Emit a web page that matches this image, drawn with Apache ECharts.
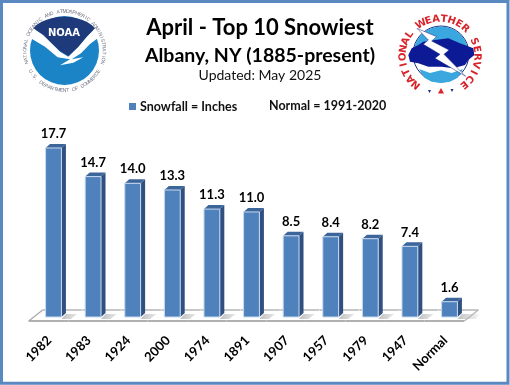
<!DOCTYPE html>
<html>
<head>
<meta charset="utf-8">
<style>html,body{margin:0;padding:0;background:#fff}#c{width:510px;height:385px}</style>
<script src="https://cdn.jsdelivr.net/npm/echarts@6/dist/echarts.min.js"></script>
</head>
<body>
<div id="c"></div>
<script>
const categories = ['1982','1983','1924','2000','1974','1891','1907','1957','1979','1947','Normal'];
const snowfall = [17.7,14.7,14.0,13.3,11.3,11.0,8.5,8.4,8.2,7.4,1.6];
const titleLines = ['April - Top 10 Snowiest','Albany, NY (1885-present)','Updated: May 2025'];
const seriesName = 'Snowfall = Inches';
const noteText = 'Normal = 1991-2020';
const noaaTop = 'NATIONAL OCEANIC AND ATMOSPHERIC ADMINISTRATION';
const noaaBottom = 'U.S. DEPARTMENT OF COMMERCE';
const noaaWord = 'NOAA';
const nwsRing = 'NATIONAL WEATHER SERVICE';

const FONT = 'Lato, Carlito, "Open Sans", sans-serif';
const rad = d => d * Math.PI / 180;

function arcTop(str, cx, cy, r, a0, a1, font, color) {
  const n = str.length - 1;
  return str.split('').map((ch, i) => {
    const t = rad(a0 + (a1 - a0) * i / n);
    return { type:'text', x:cx + r*Math.sin(t), y:cy - r*Math.cos(t), rotation:-t, z:5,
      style:{ text:ch, font, fill:color, align:'center', verticalAlign:'middle' } };
  });
}
function arcBottom(str, cx, cy, r, a0, a1, font, color) {
  const n = str.length - 1;
  return str.split('').map((ch, i) => {
    const t = rad(a0 + (a1 - a0) * i / n);
    return { type:'text', x:cx + r*Math.sin(t), y:cy + r*Math.cos(t), rotation:t, z:5,
      style:{ text:ch, font, fill:color, align:'center', verticalAlign:'middle' } };
  });
}
const mapN = p => p.map(q => [q[0]/3 + 15, q[1]/3]);
const mapW = p => p.map(q => [q[0]/3 + 385, q[1]/3 + 5]);
const poly = (pts, fill, z) => ({ type:'polygon', z:z||4, shape:{ points:pts }, style:{ fill } });
const circ = (cx, cy, r, fill, stroke, lw, z) => ({ type:'circle', z:z||3, shape:{ cx, cy, r }, style:{ fill, stroke, lineWidth:lw||0 } });

const noaa = [
  circ(64.5, 50.5, 34.5, '#1a84c6'),
  poly(mapN([[42,112],[55,85],[85,105],[110,130],[135,155],[160,170],[190,140],[215,110],[240,85],[252,112],[225,132],[198,160],[170,178],[205,172],[175,188],[135,196],[165,178],[128,172],[90,140],[60,122]]), '#ffffff', 4),
  poly(mapN([[55,85],[65,74],[80,65],[95,59],[110,55],[128,51],[147,50],[166,51],[185,55],[200,59],[215,65],[230,75],[240,85],[215,110],[190,140],[160,168],[135,153],[110,130],[85,105]]), '#1f3a7a', 5),
  { type:'text', x:64, y:33, z:6, style:{ text:noaaWord, font:'bold 10px "DejaVu Sans"', fill:'#ffffff', align:'center', verticalAlign:'middle' } }
].concat(
  arcTop(noaaTop, 64.5, 51, 39.5, -107, 107, '5px "Liberation Sans"', '#6d7384'),
  arcBottom(noaaBottom, 64.5, 51, 39.5, -59, 59, '5px "Liberation Sans"', '#6d7384')
);

const nws = [
  circ(441, 54, 28, '#ffffff', '#1a2a80', 1, 3),
  { type:'sector', z:4, shape:{ cx:441, cy:54, r0:0, r:27.5, startAngle:rad(180), endAngle:rad(360) }, style:{ fill:'#3aa8de' } },
  poly(mapW([[102,192],[135,204],[168,196],[200,204],[234,192],[218,218],[195,230],[168,234],[140,230],[118,218]]), '#3aa8de', 4),
  poly(mapW([[70,150],[80,130],[100,120],[115,110],[150,105],[190,100],[225,115],[265,130],[268,150],[250,165],[240,180],[205,190],[170,185],[130,185],[100,175],[75,170]]), '#0d1a96', 6),
  { type:'polygon', z:8, shape:{ points:mapW([[96,70],[155,95],[140,108],[192,135],[177,148],[242,214],[150,160],[165,148],[115,118],[130,105]]) }, style:{ fill:'#ffffff', stroke:'#1a2a80', lineWidth:0.5 } },
  { type:'polygon', z:8, shape:{ points:[[428,90],[431,90],[429.5,93]] }, style:{ fill:'#1a2a80' } },
  { type:'polygon', z:8, shape:{ points:[[438,93.5],[444,93.5],[441,88]] }, style:{ fill:'#d8232a' } },
  { type:'polygon', z:8, shape:{ points:[[450.5,89],[453.5,89],[452,92]] }, style:{ fill:'#1a2a80' } }
].concat(arcTop(nwsRing, 440, 56, 37, -140, 140, 'bold 10px "DejaVu Sans"', '#d8232a'));

function renderBar(params, api) {
  const v = api.value(1);
  const base = api.coord([api.value(0), 0]);
  const top = api.coord([api.value(0), v]);
  const band = api.size([1, 0])[0];
  const hw = band * 0.2;
  const x0 = base[0] - hw, x1 = base[0] + hw;
  const y0 = top[1], y1 = base[1];
  const dx = 4.5, dy = 4;
  const bl = base[0] - band/2, br = base[0] + band/2;
  const kids = [];
  const frontY = y1 + 4, backY = y1 - 7, fs = 5, bs = 9;
  kids.push({ type:'polygon', shape:{ points:[[bl-fs,frontY],[br-fs,frontY],[br+bs,backY],[bl+bs,backY]] }, style:{ fill:'#ffffff' } });
  kids.push({ type:'polygon', shape:{ points:[[x1+dx,y1-3],[x1+dx+18,y1-3],[x1+dx+14,y1+2],[x1,y1+2]] },
    style:{ fill:{ type:'linear', x:0, y:0, x2:1, y2:0, colorStops:[{offset:0,color:'#c0c0c0'},{offset:1,color:'#f8f8f8'}] } } });
  kids.push({ type:'line', shape:{ x1:bl+bs, y1:backY, x2:br+bs, y2:backY }, style:{ stroke:'#c8c8c8', lineWidth:2 } });
  kids.push({ type:'line', shape:{ x1:bl-fs, y1:frontY, x2:br-fs, y2:frontY }, style:{ stroke:'#b0b0b0', lineWidth:2 } });
  if (params.dataIndex === 0) kids.push({ type:'line', shape:{ x1:bl-fs, y1:frontY, x2:bl+bs, y2:backY }, style:{ stroke:'#a8a8a8', lineWidth:1.2 } });
  if (params.dataIndex === categories.length - 1) kids.push({ type:'line', shape:{ x1:br-fs, y1:frontY, x2:br+bs, y2:backY }, style:{ stroke:'#b8b8b8', lineWidth:1.4 } });
  kids.push({ type:'polygon', shape:{ points:[[x1,y0],[x1+dx,y0-dy],[x1+dx,y1-dy],[x1,y1]] }, style:{ fill:'#2f5080' } });
  kids.push({ type:'polygon', shape:{ points:[[x0,y0],[x0+dx,y0-dy],[x1+dx,y0-dy],[x1,y0]] }, style:{ fill:'#3c659a' } });
  kids.push({ type:'rect', shape:{ x:x0, y:y0, width:x1-x0, height:y1-y0 }, style:{ fill:'#4f81bd', stroke:'#c9daee', lineWidth:1 } });
  kids.push({ type:'text', x:base[0], y:y0-14, style:{ text:v.toFixed(1), font:'bold 13px ' + FONT, fill:'#000', align:'center', verticalAlign:'middle' } });
  return { type:'group', children:kids };
}

const chart = echarts.init(document.getElementById('c'), null, { renderer:'canvas' });
chart.setOption({
  animation:false,
  backgroundColor:'#ffffff',
  title:[
    { text:titleLines[0], left:255, top:12, textAlign:'center', textStyle:{ fontFamily:FONT, fontWeight:'bold', fontSize:22, color:'#000' } },
    { text:titleLines[1], left:255, top:41, textAlign:'center', textStyle:{ fontFamily:FONT, fontWeight:'bold', fontSize:19.5, color:'#000' } },
    { text:titleLines[2], left:255, top:63, textAlign:'center', textStyle:{ fontFamily:FONT, fontWeight:'normal', fontSize:14, color:'#111' } },
    { text:noteText, left:264, top:94, textStyle:{ fontFamily:FONT, fontWeight:'bold', fontSize:12.5, color:'#111' } }
  ],
  legend:{ data:[{ name:seriesName, icon:'rect', itemStyle:{ color:'#4f81bd' } }], left:124, top:95, itemWidth:7, itemHeight:7, itemGap:4,
    textStyle:{ fontFamily:FONT, fontWeight:'bold', fontSize:12.5, color:'#111', padding:[0,0,0,-1] } },
  grid:{ left:33.7, width:435.6, top:126, height:191 },
  xAxis:{ type:'category', data:categories, axisLine:{show:false}, axisTick:{show:false},
    axisLabel:{ interval:0, rotate:45, margin:17, padding:[0,6,0,0], fontFamily:FONT, fontWeight:'bold', fontSize:13, color:'#000' } },
  yAxis:{ type:'value', min:0, max:20, interval:5, show:false, splitLine:{show:false} },
  series:[{ name:seriesName, type:'custom', coordinateSystem:'cartesian2d', renderItem:renderBar,
    encode:{ x:0, y:1 }, data:snowfall.map((v,i)=>[i,v]), itemStyle:{ color:'#4f81bd' }, clip:false }],
  graphic:[{ type:'rect', z:20, silent:true, shape:{ x:1.5, y:1.5, width:506.5, height:381.8 }, style:{ fill:null, stroke:'#5a88c0', lineWidth:3 } }].concat(noaa, nws)
});
</script>
</body>
</html>
